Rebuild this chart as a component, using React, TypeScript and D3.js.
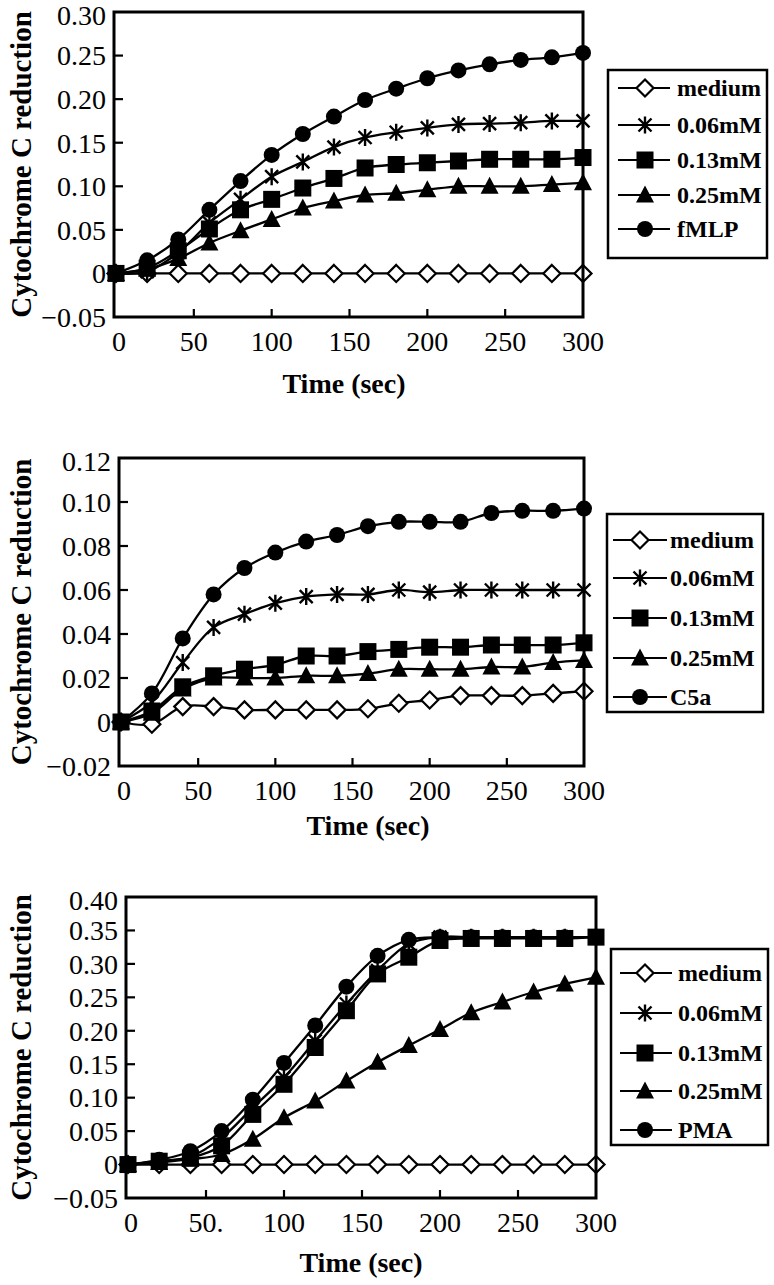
import React from "react";
import * as d3 from "d3";

const TIME = [0, 20, 40, 60, 80, 100, 120, 140, 160, 180, 200, 220, 240, 260, 280, 300];
const X_TICKS_A = ["0", "50", "100", "150", "200", "250", "300"];
const X_TICKS_C = ["0", "50.", "100", "150", "200", "250", "300"];
const X_TICK_VALUES = [0, 50, 100, 150, 200, 250, 300];

const SERIES_NAMES_1 = ["medium", "0.06mM", "0.13mM", "0.25mM", "fMLP"];
const SERIES_NAMES_2 = ["medium", "0.06mM", "0.13mM", "0.25mM", "C5a"];
const SERIES_NAMES_3 = ["medium", "0.06mM", "0.13mM", "0.25mM", "PMA"];
const MARKERS = ["diamond", "star", "square", "triangle", "circle"];

// Panel 1 (fMLP)
const P1_MEDIUM = [0, 0, 0, 0, 0, 0, 0, 0, 0, 0, 0, 0, 0, 0, 0, 0];
const P1_006 = [0, 0.002, 0.024, 0.058, 0.085, 0.111, 0.128, 0.145, 0.156, 0.162, 0.167, 0.171, 0.172, 0.173, 0.175, 0.175];
const P1_013 = [0, 0.006, 0.026, 0.051, 0.073, 0.085, 0.098, 0.109, 0.121, 0.125, 0.127, 0.129, 0.131, 0.131, 0.131, 0.133];
const P1_025 = [0, 0.005, 0.017, 0.035, 0.049, 0.062, 0.075, 0.083, 0.09, 0.092, 0.096, 0.1, 0.1, 0.1, 0.102, 0.104];
const P1_FMLP = [0, 0.015, 0.039, 0.073, 0.106, 0.136, 0.16, 0.18, 0.199, 0.212, 0.224, 0.233, 0.24, 0.245, 0.248, 0.253];
const P1_Y_TICKS = [-0.05, 0, 0.05, 0.1, 0.15, 0.2, 0.25, 0.3];
const P1_Y_LABELS = ["\u22120.05", "0", "0.05", "0.10", "0.15", "0.20", "0.25", "0.30"];

// Panel 2 (C5a)
const P2_MEDIUM = [0, -0.001, 0.007, 0.007, 0.0055, 0.0055, 0.0055, 0.0055, 0.006, 0.0085, 0.01, 0.012, 0.012, 0.012, 0.013, 0.014];
const P2_006 = [0, 0.009, 0.027, 0.043, 0.049, 0.054, 0.057, 0.058, 0.058, 0.06, 0.059, 0.06, 0.06, 0.06, 0.06, 0.06];
const P2_013 = [0, 0.005, 0.016, 0.021, 0.024, 0.026, 0.03, 0.03, 0.032, 0.033, 0.034, 0.034, 0.035, 0.035, 0.035, 0.036];
const P2_025 = [0, 0.004, 0.015, 0.02, 0.02, 0.02, 0.021, 0.021, 0.022, 0.024, 0.024, 0.024, 0.025, 0.025, 0.027, 0.028];
const P2_C5A = [0, 0.013, 0.038, 0.058, 0.07, 0.077, 0.082, 0.085, 0.089, 0.091, 0.091, 0.091, 0.095, 0.096, 0.096, 0.097];
const P2_Y_TICKS = [-0.02, 0, 0.02, 0.04, 0.06, 0.08, 0.1, 0.12];
const P2_Y_LABELS = ["\u22120.02", "0", "0.02", "0.04", "0.06", "0.08", "0.10", "0.12"];

// Panel 3 (PMA)
const P3_MEDIUM = [0, 0, 0, 0, 0, 0, 0, 0, 0, 0, 0, 0, 0, 0, 0, 0];
const P3_006 = [0, 0.005, 0.012, 0.04, 0.085, 0.13, 0.185, 0.24, 0.29, 0.33, 0.34, 0.34, 0.34, 0.34, 0.34, 0.34];
const P3_013 = [0, 0.005, 0.01, 0.028, 0.075, 0.12, 0.175, 0.23, 0.285, 0.31, 0.335, 0.338, 0.338, 0.338, 0.338, 0.34];
const P3_025 = [0, 0.003, 0.008, 0.015, 0.038, 0.07, 0.095, 0.125, 0.153, 0.178, 0.202, 0.227, 0.243, 0.258, 0.27, 0.28];
const P3_PMA = [0, 0.007, 0.02, 0.05, 0.097, 0.152, 0.208, 0.266, 0.312, 0.336, 0.34, 0.34, 0.34, 0.34, 0.34, 0.34];
const P3_Y_TICKS = [-0.05, 0, 0.05, 0.1, 0.15, 0.2, 0.25, 0.3, 0.35, 0.4];
const P3_Y_LABELS = ["\u22120.05", "0", "0.05", "0.10", "0.15", "0.20", "0.25", "0.30", "0.35", "0.40"];

const FONT = "'Liberation Serif', 'Times New Roman', serif";

type Layout = {
  left: number; right: number; top: number; bottom: number; xZero: number;
  titleX: number; titleY: number;
  leg: { x: number; y: number; w: number; h: number; rows: number[]; l1: number; l2: number; m: number; tx: number };
};

function Marker({ type, x, y }: { type: string; x: number; y: number }) {
  const s = 8.5;
  if (type === "diamond")
    return <path d={`M${x},${y - s} L${x + s},${y} L${x},${y + s} L${x - s},${y} Z`} fill="#fff" stroke="#000" strokeWidth={2.2} />;
  if (type === "square")
    return <rect x={x - 8.5} y={y - 8.5} width={17} height={17} fill="#000" />;
  if (type === "triangle")
    return <path d={`M${x},${y - 9.5} L${x + 9},${y + 7.5} L${x - 9},${y + 7.5} Z`} fill="#000" />;
  if (type === "circle") return <circle cx={x} cy={y} r={8} fill="#000" />;
  // star
  const a = 6.5;
  return (
    <path
      d={`M${x - a},${y - a} L${x + a},${y + a} M${x - a},${y + a} L${x + a},${y - a} M${x},${y - 8.5} L${x},${y + 8.5}`}
      stroke="#000"
      strokeWidth={2.4}
      fill="none"
    />
  );
}

function Panel({
  layout, series, names, yTicks, yLabels, xLabels,
}: {
  layout: Layout; series: number[][]; names: string[]; yTicks: number[]; yLabels: string[]; xLabels: string[];
}) {
  const L = layout;
  const x = d3.scaleLinear().domain([0, 300]).range([L.xZero, L.right]);
  const y = d3.scaleLinear().domain([yTicks[0], yTicks[yTicks.length - 1]]).range([L.bottom, L.top]);
  const line = d3
    .line<number>()
    .x((_, i) => x(TIME[i]))
    .y((v) => y(v))
    .curve(d3.curveCatmullRom.alpha(0.5));
  const midY = (L.top + L.bottom) / 2;
  return (
    <g>
      {series.map((s, si) => (
        <g key={si}>
          <path d={line(s) || ""} fill="none" stroke="#000" strokeWidth={2.3} />
          {s.map((v, i) => (
            <Marker key={i} type={MARKERS[si]} x={x(TIME[i])} y={y(v)} />
          ))}
        </g>
      ))}
      <rect x={L.left} y={L.top} width={L.right - L.left} height={L.bottom - L.top} fill="none" stroke="#000" strokeWidth={3} />
      {yTicks.map((t, i) => (
        <g key={i}>
          {i > 0 && i < yTicks.length - 1 && (
            <line x1={L.left} x2={L.left + 9} y1={y(t)} y2={y(t)} stroke="#000" strokeWidth={2.2} />
          )}
          <text
            x={L.left - 8}
            y={y(t) + (i === yTicks.length - 1 ? 3 : 0)}
            dy="0.35em"
            textAnchor="end"
            fontFamily={FONT}
            fontSize={28}
            fill="#000"
          >
            {yLabels[i]}
          </text>
        </g>
      ))}
      {X_TICK_VALUES.map((t, i) => (
        <g key={i}>
          {i > 0 && i < X_TICK_VALUES.length - 1 && (
            <line x1={x(t)} x2={x(t)} y1={L.bottom} y2={L.bottom - 8} stroke="#000" strokeWidth={2.2} />
          )}
          <text x={x(t) + (i === 0 ? 3 : 0)} y={L.bottom + 24} dy="0.35em" textAnchor="middle" fontFamily={FONT} fontSize={28} fill="#000">
            {xLabels[i]}
          </text>
        </g>
      ))}
      <text x={L.titleX} y={L.titleY} dy="0.35em" textAnchor="middle" fontFamily={FONT} fontWeight="bold" fontSize={28} fill="#000">
        Time (sec)
      </text>
      <text
        transform={`translate(31,${midY}) rotate(-90)`}
        textAnchor="middle"
        fontFamily={FONT}
        fontWeight="bold"
        fontSize={29}
        fill="#000"
      >
        Cytochrome C reduction
      </text>
      <rect x={L.leg.x} y={L.leg.y} width={L.leg.w} height={L.leg.h} fill="none" stroke="#000" strokeWidth={2.5} />
      {names.map((n, i) => (
        <g key={n}>
          <line x1={L.leg.l1} x2={L.leg.l2} y1={L.leg.rows[i]} y2={L.leg.rows[i]} stroke="#000" strokeWidth={2.2} />
          <Marker type={MARKERS[i]} x={L.leg.m} y={L.leg.rows[i]} />
          <text x={L.leg.tx} y={L.leg.rows[i]} dy="0.35em" fontFamily={FONT} fontWeight="bold" fontSize={24} fill="#000">
            {n}
          </text>
        </g>
      ))}
    </g>
  );
}

const LAYOUT1: Layout = {
  left: 114, right: 583, top: 12, bottom: 317, xZero: 116, titleX: 344, titleY: 383,
  leg: { x: 608, y: 70, w: 159, h: 188, rows: [88, 125, 160, 195, 229], l1: 618, l2: 670, m: 645, tx: 677 },
};
const LAYOUT2: Layout = {
  left: 119, right: 584, top: 458, bottom: 766, xZero: 121, titleX: 368, titleY: 825,
  leg: { x: 607, y: 514, w: 156, h: 198, rows: [540, 578, 618, 658, 697], l1: 613, l2: 667, m: 640, tx: 670 },
};
const LAYOUT3: Layout = {
  left: 126, right: 596, top: 897, bottom: 1198, xZero: 128, titleX: 361, titleY: 1262,
  leg: { x: 611, y: 949, w: 157, h: 196, rows: [973, 1013, 1053, 1091, 1130], l1: 620, l2: 672, m: 645, tx: 678 },
};

export default function App() {
  return (
    <svg width={774} height={1285} style={{ position: "absolute", left: 0, top: 0, background: "#fff" }}>
      <rect width={774} height={1285} fill="#fff" />
      <Panel layout={LAYOUT1} series={[P1_MEDIUM, P1_006, P1_013, P1_025, P1_FMLP]} names={SERIES_NAMES_1} yTicks={P1_Y_TICKS} yLabels={P1_Y_LABELS} xLabels={X_TICKS_A} />
      <Panel layout={LAYOUT2} series={[P2_MEDIUM, P2_006, P2_013, P2_025, P2_C5A]} names={SERIES_NAMES_2} yTicks={P2_Y_TICKS} yLabels={P2_Y_LABELS} xLabels={X_TICKS_A} />
      <Panel layout={LAYOUT3} series={[P3_MEDIUM, P3_006, P3_013, P3_025, P3_PMA]} names={SERIES_NAMES_3} yTicks={P3_Y_TICKS} yLabels={P3_Y_LABELS} xLabels={X_TICKS_C} />
    </svg>
  );
}
